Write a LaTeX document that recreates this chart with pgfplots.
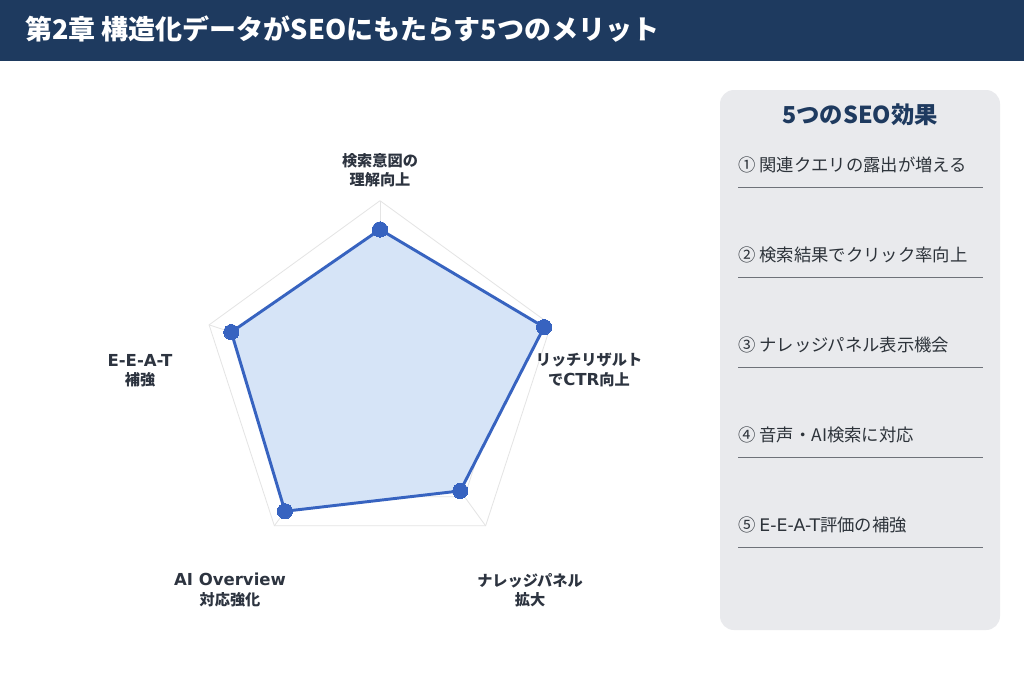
\documentclass[border=0pt]{standalone}
\usepackage{pgfplots}
\pgfplotsset{compat=1.18}
\usepgfplotslibrary{polar}
\usepackage{fontspec}
\setmainfont{Noto Sans CJK JP}
\newfontfamily\lat{DejaVu Sans}
\definecolor{navy}{HTML}{1E3A5F}
\definecolor{panelbg}{HTML}{E9EAED}
\definecolor{rule}{HTML}{6E7279}
\definecolor{itemtext}{HTML}{2D333A}
\definecolor{labeltext}{HTML}{2D3440}
\definecolor{radarblue}{HTML}{3763C0}
\definecolor{radarfill}{HTML}{D6E4F7}
\definecolor{gridgray}{HTML}{E4E4E4}
\newcommand\latlab[1]{{\lat\fontsize{12.4pt}{14.5pt}\selectfont #1}}
\begin{document}
\begin{tikzpicture}[x=0.75pt,y=-0.75pt]
\fill[white,use as bounding box] (0,0) rectangle (1024,683);
% title band
\fill[navy] (0,0) rectangle (1024,61);
\node[anchor=west,inner sep=0pt,text=white,font=\fontsize{20.25pt}{24pt}\selectfont\bfseries] at (25,29) {第2章 構造化データがSEOにもたらす5つのメリット};
% radar
\begin{polaraxis}[
  at={(285pt,-285.3pt)}, anchor=center,
  width=269.55pt, height=269.55pt, scale only axis,
  xmin=0, xmax=360, ymin=0, ymax=100,
  hide axis, clip=false,
]
\addplot[gridgray, line width=0.6pt] coordinates {(90,100)(18,100)(306,100)(234,100)(162,100)(90,100)};
\addplot[gridgray, line width=0.6pt] coordinates {(90,80)(18,80)(306,80)(234,80)(162,80)(90,80)};
\addplot[gridgray, line width=0.6pt] coordinates {(90,60)(18,60)(306,60)(234,60)(162,60)(90,60)};
\addplot[gridgray, line width=0.6pt] coordinates {(90,40)(18,40)(306,40)(234,40)(162,40)(90,40)};
\addplot[gridgray, line width=0.6pt] coordinates {(90,20)(18,20)(306,20)(234,20)(162,20)(90,20)};
\addplot[gridgray, line width=0.6pt] coordinates {(90,0)(90,100)};
\addplot[gridgray, line width=0.6pt] coordinates {(18,0)(18,100)};
\addplot[gridgray, line width=0.6pt] coordinates {(306,0)(306,100)};
\addplot[gridgray, line width=0.6pt] coordinates {(234,0)(234,100)};
\addplot[gridgray, line width=0.6pt] coordinates {(162,0)(162,100)};
\addplot[draw=radarblue, line width=2.2pt, fill=radarfill, mark=*, mark size=5.7pt,
  mark options={fill=radarblue, draw=radarblue, line width=0pt}]
  coordinates {(90,84)(18,96)(306,76)(234,90)(162,87)(90,84)};
\end{polaraxis}
% radar labels
\begin{scope}[every node/.style={align=center,inner sep=0pt,text=labeltext,font=\fontsize{11.4pt}{14.5pt}\selectfont\bfseries}]
\node at (380,170) {検索意図の\\理解向上};
\node at (589,370) {リッチリザルト\\で\latlab{CTR}向上};
\node at (530,590) {ナレッジパネル\\拡大};
\node at (230,590) {\latlab{AI Overview}\\対応強化};
\node at (140,371) {\latlab{E-E-A-T}\\補強};
\end{scope}
% right panel
\fill[panelbg, rounded corners=10.5pt] (720,90) rectangle (1000,630);
\node[text=navy,inner sep=0pt,font=\fontsize{17.5pt}{20pt}\selectfont\bfseries] at (860,115) {5つのSEO効果};
\begin{scope}[every node/.style={anchor=west,inner sep=0pt,text=itemtext,font=\fontsize{13pt}{16pt}\selectfont}]
\node at (738,165) {① 関連クエリの露出が増える};
\node at (738,255) {② 検索結果でクリック率向上};
\node at (738,345) {③ ナレッジパネル表示機会};
\node at (738,435) {④ 音声・AI検索に対応};
\node at (738,525) {⑤ {\lat E-E-A-T}評価の補強};
\end{scope}
\foreach \y in {187.3,277.3,367.3,457.3,547.3} {\draw[rule,line width=0.9pt] (738,\y) -- (983,\y);}
\end{tikzpicture}
\end{document}
